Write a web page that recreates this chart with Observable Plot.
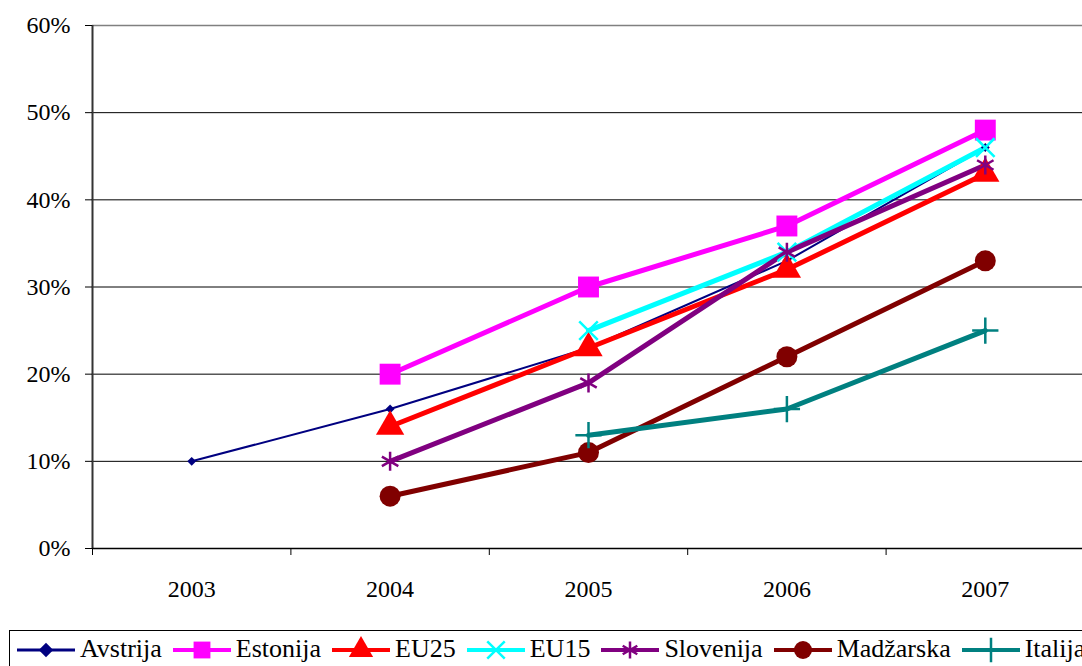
<!DOCTYPE html>
<html><head><meta charset="utf-8">
<script src="https://cdn.jsdelivr.net/npm/d3@7"></script>
<script src="https://cdn.jsdelivr.net/npm/@observablehq/plot@0.6"></script>
<style>
body{margin:0;background:#fff;overflow:hidden;}
#legend{position:absolute;left:9px;top:630px;width:1100px;height:50px;border:1px solid #000;display:flex;align-items:flex-start;color:#000;box-sizing:border-box;padding-left:7px;padding-top:3px;}
.item{display:flex;align-items:flex-start;margin-right:11px;}
.item svg{margin-right:5px;display:block;}
.item span{line-height:30px;white-space:nowrap;}
</style></head><body>
<div id="chart"></div>
<div id="legend" style="font-family:'Liberation Serif';font-size:26px"></div>
<script>
const years = [2003, 2004, 2005, 2006, 2007];
const seriesNames = ["Avstrija", "Estonija", "EU25", "EU15", "Slovenija", "Madžarska", "Italija"];
const colors = ["#000080", "#FF00FF", "#FF0000", "#00FFFF", "#800080", "#800000", "#008080"];
const symbols = ["diamond2", "square", "triangle", "times", "asterisk", "circle", "plus"];
const avstrija = [0.10, 0.16, 0.23, 0.33, 0.46];
const estonija = [null, 0.20, 0.30, 0.37, 0.48];
const eu25 = [null, 0.14, 0.23, 0.32, 0.43];
const eu15 = [null, null, 0.25, 0.34, 0.46];
const slovenija = [null, 0.10, 0.19, 0.34, 0.44];
const madzarska = [null, 0.06, 0.11, 0.22, 0.33];
const italija = [null, null, 0.13, 0.16, 0.25];
const yTicks = [0, 0.1, 0.2, 0.3, 0.4, 0.5, 0.6];

const FONT = "Liberation Serif";
const allValues = [avstrija, estonija, eu25, eu15, slovenija, madzarska, italija];
const lineWidths = [2, 5, 5, 5, 5, 5, 5];
const markerR = [4, 11.8, 10.5, 8.5, 9, 10.5, 8.5];
const filled = [true, true, true, false, false, true, false];

const data = [];
allValues.forEach((vals, si) => vals.forEach((v, i) => {
  if (v != null) data.push({series: seriesNames[si], year: years[i], value: v, si});
}));

const bounds = years.map(y => y - 0.5).concat([years[years.length - 1] + 0.5]);

const marks = [
  Plot.gridY(yTicks.slice(1, -1), {stroke: "#000", strokeOpacity: 1, strokeWidth: 1}),
  Plot.ruleY([yTicks[yTicks.length - 1]], {stroke: "#808080", strokeWidth: 1.5}),
  Plot.ruleX([bounds[0]], {stroke: "#333", strokeWidth: 2}),
  Plot.ruleY([0], {stroke: "#000", strokeWidth: 1.5}),
  Plot.axisY(yTicks, {tickFormat: d => Math.round(d * 100) + "%", tickSize: 7, tickPadding: 15, fontSize: 24, fontFamily: FONT, stroke: "#000", label: null}),
  Plot.axisX(bounds, {tickFormat: () => "", tickSize: 7, label: null}),
  Plot.axisX(years, {tickFormat: d => String(d), tickSize: 0, tickPadding: 31, fontSize: 24, fontFamily: FONT, label: null})
];
seriesNames.forEach((name, si) => {
  const d = data.filter(r => r.si === si);
  marks.push(Plot.line(d, {x: "year", y: "value", stroke: colors[si], strokeWidth: lineWidths[si]}));
});
seriesNames.forEach((name, si) => {
  const d = data.filter(r => r.si === si);
  marks.push(Plot.dot(d, {x: "year", y: "value", symbol: () => symbols[si], r: markerR[si],
    fill: filled[si] ? colors[si] : "none", stroke: colors[si], strokeWidth: filled[si] ? 0 : 2.5}));
});

const chart = Plot.plot({
  width: 1082, height: 625,
  marginTop: 25, marginBottom: 77, marginLeft: 92, marginRight: 0,
  style: {fontFamily: FONT, fontSize: "24px", color: "#000", background: "#fff", overflow: "visible"},
  x: {type: "linear", domain: [bounds[0], bounds[bounds.length - 1]], range: [92, 1084]},
  y: {domain: [0, 0.6], range: [548, 25]},
  symbol: {type: "identity"},
  marks
});
document.getElementById("chart").appendChild(chart);

const leg = document.getElementById("legend");
const symMap = {diamond2: d3.symbolDiamond2, square: d3.symbolSquare, triangle: d3.symbolTriangle, times: d3.symbolTimes, asterisk: d3.symbolAsterisk, circle: d3.symbolCircle, plus: d3.symbolPlus};
const legR = [6.5, 9.5, 9, 8, 8, 9, 8];
seriesNames.forEach((name, si) => {
  const it = document.createElement("div");
  it.className = "item";
  const sw = d3.create("svg").attr("width", 58).attr("height", 30);
  sw.append("line").attr("x1", 0).attr("x2", 58).attr("y1", 16).attr("y2", 16)
    .attr("stroke", colors[si]).attr("stroke-width", si === 0 ? 3 : 4);
  const r = legR[si];
  sw.append("path").attr("transform", "translate(29,16)")
    .attr("d", d3.symbol(symMap[symbols[si]], r * r * Math.PI)())
    .attr("fill", filled[si] ? colors[si] : "none").attr("stroke", colors[si]).attr("stroke-width", filled[si] ? 0 : 2.5);
  it.appendChild(sw.node());
  const t = document.createElement("span");
  t.textContent = name;
  t.style.fontFamily = FONT;
  it.appendChild(t);
  leg.appendChild(it);
});
</script>
</body></html>
